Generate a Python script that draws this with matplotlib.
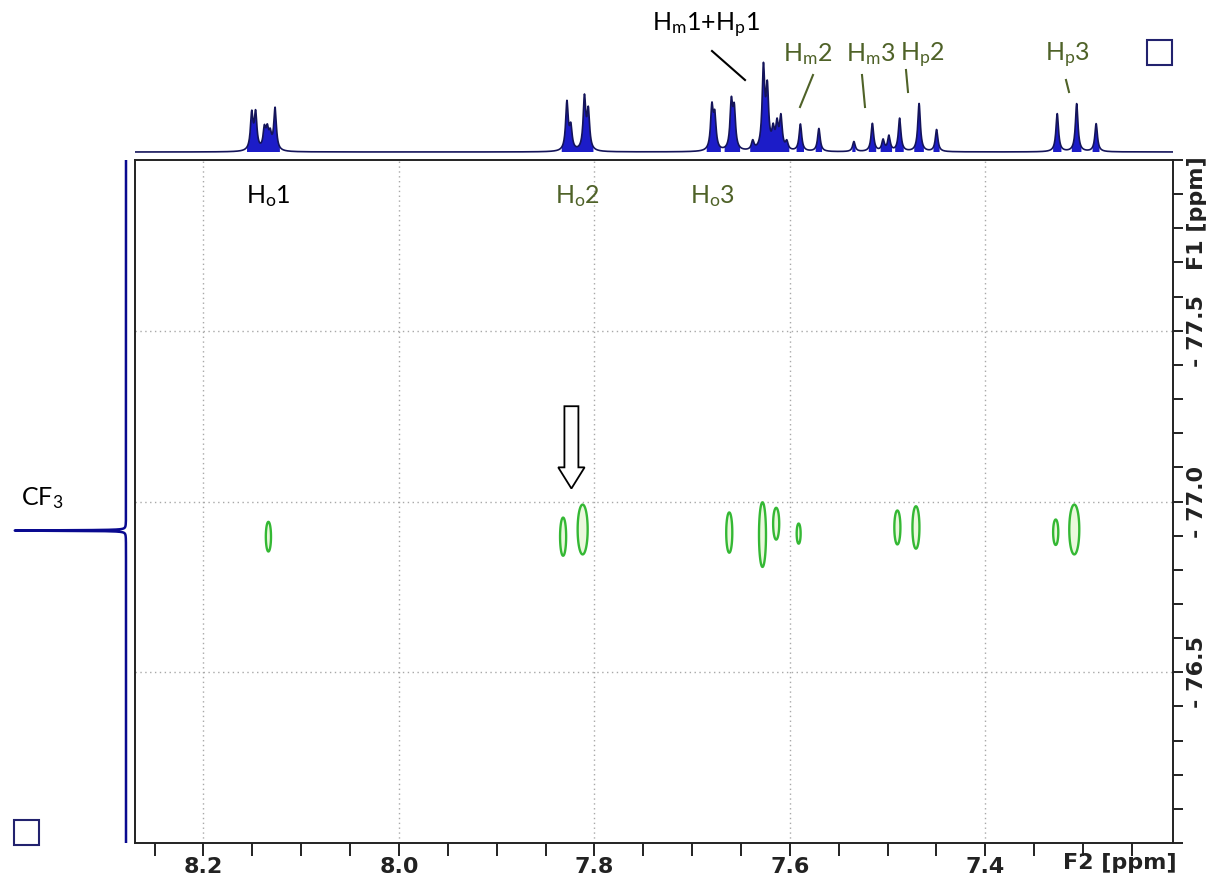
import numpy as np
import matplotlib.pyplot as plt
from matplotlib.patches import Rectangle, FancyArrow
from matplotlib.lines import Line2D
from matplotlib.ticker import MultipleLocator

plt.rcParams['mathtext.fontset'] = 'custom'
plt.rcParams['mathtext.rm'] = 'Lato'
plt.rcParams['mathtext.it'] = 'Lato:italic'

W, H = 1217, 888

# 1H projection (F2): line positions [ppm] and heights
h_ppm = [8.155, 8.151, 8.142, 8.139, 8.136, 8.131,
         7.831, 7.827, 7.813, 7.809,
         7.682, 7.679, 7.662, 7.659, 7.640, 7.629, 7.625, 7.619, 7.615, 7.611,
         7.605, 7.591, 7.572, 7.536, 7.517, 7.506, 7.500, 7.489, 7.469, 7.451,
         7.327, 7.307, 7.287]
h_int = [36, 36, 20, 18, 14, 42,
         48, 22, 52, 38,
         42, 32, 46, 38, 9, 80, 58, 18, 24, 32,
         8, 27, 23, 10, 28, 11, 15, 33, 48, 22,
         38, 48, 28]

# 19F projection (F1)
f_ppm = [-76.915]
f_int = [113]

# 19F-1H cross peaks: F2 / F1 centres and half widths [ppm]
cp_f2 = [8.1335, 7.832, 7.812, 7.662, 7.628, 7.614, 7.591, 7.490, 7.471, 7.328, 7.309]
cp_f1 = [-76.897, -76.897, -76.918, -76.909, -76.903, -76.935, -76.906, -76.924, -76.924, -76.910, -76.918]
cp_w2 = [0.0017, 0.0020, 0.0033, 0.0020, 0.0023, 0.0020, 0.0013, 0.0020, 0.0023, 0.0017, 0.0033]
cp_w1 = [0.028, 0.036, 0.047, 0.038, 0.061, 0.030, 0.019, 0.032, 0.040, 0.024, 0.047]

f2_ticks = [8.2, 8.0, 7.8, 7.6, 7.4]
f1_ticks = [-77.5, -77.0, -76.5]

labels_top = ['$\\mathrm{H_m1{+}H_p1}$', '$\\mathrm{H_m2}$', '$\\mathrm{H_m3}$', '$\\mathrm{H_p2}$', '$\\mathrm{H_p3}$']
labels_mid = ['$\\mathrm{H_o1}$', '$\\mathrm{H_o2}$', '$\\mathrm{H_o3}$']

xlim = (8.27, 7.208)
ylim = (-76.0, -78.0)

def fx(x):
    return x / W

def fy(y):
    return 1 - y / H

fig = plt.figure(figsize=(W / 100, H / 100), dpi=100)

left, right, top, bottom = 135, 1173, 160, 843
ax = fig.add_axes([fx(left), fy(bottom), (right - left) / W, (bottom - top) / H])
ax_top = fig.add_axes([fx(left), fy(top), (right - left) / W, 120 / H])
ax_left = fig.add_axes([0, fy(bottom), 128 / W, (bottom - top) / H])

# top 1D spectrum
x = np.linspace(xlim[1], xlim[0] + 0.006, 8000)
hw = 0.0016
spec = np.zeros_like(x)
for c, h in zip(h_ppm, h_int):
    spec += h * hw**2 / ((x - c)**2 + hw**2)
ax_top.fill_between(x, 0, spec, where=spec > 5, color='#1c1cc8', lw=0)
ax_top.plot(x, spec, color='#14145a', lw=1.2)
ax_top.set_xlim(xlim[0] + 0.005, xlim[1])
ax_top.set_ylim(-8, 112)
ax_top.axis('off')

# left 1D projection
y = np.linspace(-78.0, -76.0, 8000)
fw = 0.0009
proj = np.zeros_like(y)
for c, h in zip(f_ppm, f_int):
    proj += h * fw**2 / ((y - c)**2 + fw**2)
ax_left.plot(proj, y, color='#0a0a90', lw=1.8)
ax_left.set_xlim(126, -2)
ax_left.set_ylim(*ylim)
ax_left.axis('off')

# 2D cross peaks
gx = np.linspace(7.2, 8.28, 4000)
gy = np.linspace(-77.15, -76.65, 400)
GX, GY = np.meshgrid(gx, gy)
Z = np.zeros_like(GX)
for c2, c1, w2, w1 in zip(cp_f2, cp_f1, cp_w2, cp_w1):
    Z += np.exp(-0.5 * ((GX - c2) / w2)**2 - 0.5 * ((GY - c1) / w1)**2)
ax.contourf(gx, gy, Z, levels=[0.3, 10], colors=['#eaf8dc'])
ax.contour(gx, gy, Z, levels=[0.3], colors=['#34b834'], linewidths=1.7)

ax.set_xlim(*xlim)
ax.set_ylim(*ylim)
ax.set_xticks(f2_ticks, labels=[f'{v:.1f}' for v in f2_ticks])
ax.xaxis.set_minor_locator(MultipleLocator(0.05))
ax.yaxis.tick_right()
ax.set_yticks(f1_ticks, labels=[f'- {abs(v):.1f}' for v in f1_ticks])
ax.yaxis.set_minor_locator(MultipleLocator(0.1))
ax.tick_params(which='both', direction='out', length=9, width=1.4, color='#222222')
ax.tick_params(axis='y', which='both', length=7)
ax.tick_params(axis='x', labelsize=16, pad=1)
ax.tick_params(axis='y', labelsize=16, pad=3, labelrotation=90)
for lab in ax.get_xticklabels() + ax.get_yticklabels():
    lab.set_fontweight('bold')
    lab.set_color('#222222')
for lab in ax.get_yticklabels():
    lab.set_va('center')
ax.grid(True, which='major', color='#a8a8a8', lw=1.0, linestyle=(0, (1, 2.5)))
for s in ax.spines.values():
    s.set_linewidth(1.4)
    s.set_color('#222222')

# arrow
ax.add_patch(FancyArrow(7.8235, -77.279, 0, 0.241, width=0.0143, head_width=0.027,
                        head_length=0.062, length_includes_head=True,
                        facecolor='white', edgecolor='black', lw=1.3))

# axis captions
fig.text(fx(1120), fy(863), 'F2 [ppm]', ha='center', va='center', fontsize=16, fontweight='bold', color='#222222')
fig.text(fx(1197), fy(213), 'F1 [ppm]', ha='center', va='center', rotation=90, fontsize=16, fontweight='bold', color='#222222')

# peak labels
green = '#4f6228'
top_pos = [(706, 31, 'black'), (808, 61, green), (871, 61, green), (922, 61, green), (1067, 61, green)]
for lab, (px, py, col) in zip(labels_top, top_pos):
    fig.text(fx(px), fy(py), lab, ha='center', va='baseline', fontsize=18, color=col)
mid_pos = [(268, 203, 'black'), (578, 203, green), (713, 203, green)]
for lab, (px, py, col) in zip(labels_mid, mid_pos):
    fig.text(fx(px), fy(py), lab, ha='center', va='baseline', fontsize=18, color=col)
fig.text(fx(42), fy(505), '$\\mathrm{CF_3}$', ha='center', va='baseline', fontsize=18, color='black')

lines = [((712, 51), (745, 80), 'black'), ((813, 75), (800, 107), green),
         ((862, 75), (865, 107), green), ((906, 70), (908, 92), green),
         ((1066, 80), (1069, 92), green)]
for (x0, y0), (x1, y1), col in lines:
    fig.add_artist(Line2D([fx(x0), fx(x1)], [fy(y0), fy(y1)], color=col, lw=1.5))

# projection boxes
for (x0, y0) in [(1147, 40), (14, 820)]:
    fig.add_artist(Rectangle((fx(x0), fy(y0 + 25)), 25 / W, 25 / H, fill=False,
                             ec='#22226e', lw=1.5, transform=fig.transFigure))

fig.savefig('out.png', dpi=100)
